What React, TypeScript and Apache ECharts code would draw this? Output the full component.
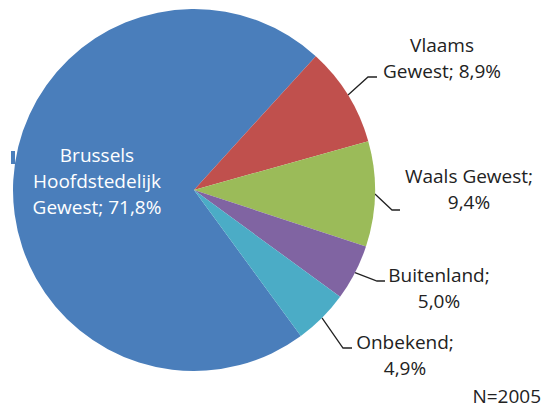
import React, { useEffect, useRef } from "react";
import * as echarts from "echarts";

const categories = ["Brussels\nHoofdstedelijk\nGewest", "Vlaams\nGewest", "Waals Gewest", "Buitenland", "Onbekend"];
const labelTexts = ["Brussels\nHoofdstedelijk\nGewest; 71,8%", "Vlaams\nGewest; 8,9%", "Waals Gewest;\n9,4%", "Buitenland;\n5,0%", "Onbekend;\n4,9%"];
const values = [71.8, 8.9, 9.4, 5.0, 4.9];
const colors = ["#4A7EBB", "#C0504D", "#9BBB59", "#8064A2", "#4BACC6"];
const footnote = "N=2005";

// label layout (style): label centre, leader-line bend and end
const labelPos: [number, number][] = [[97, 181], [442, 58], [469, 189], [439, 288], [405, 355]];
const lineBend: ([number, number] | null)[] = [null, [368, 77], [392, 210], [377, 281], [343, 348]];
const lineEnd: ([number, number] | null)[] = [null, [377, 77], [400, 210], [385, 281], [352, 348]];

const FONT = "'Open Sans', 'Noto Sans', sans-serif";

export default function App() {
  const ref = useRef<HTMLDivElement>(null);
  useEffect(() => {
    if (!ref.current) return;
    const chart = echarts.init(ref.current, null, { renderer: "svg" });
    chart.setOption({
      animation: false,
      backgroundColor: "#ffffff",
      graphic: [
        { type: "rect", shape: { x: 11, y: 151, width: 4, height: 13 }, style: { fill: colors[0] }, z: 0 },
        {
          type: "text",
          right: 3,
          top: 386,
          style: { text: footnote, fill: "#222222", font: `19px ${FONT}` },
        },
      ],
      series: [
        {
          type: "pie",
          center: [194, 190],
          radius: [0, 181],
          startAngle: 47.7 + values[0] * 3.6,
          clockwise: true,
          avoidLabelOverlap: false,
          itemStyle: { borderWidth: 0 },
          label: {
            show: true,
            position: "outside",
            color: "#222222",
            fontFamily: FONT,
            fontSize: 19,
            lineHeight: 26,
            align: "center",
          },
          labelLine: { show: true, lineStyle: { color: "#222222", width: 1.3 } },
          emphasis: { disabled: true },
          data: values.map((v, i) => ({
            value: v,
            name: categories[i],
            itemStyle: { color: colors[i] },
            label:
              i === 0
                ? { position: "inside", color: "#ffffff", formatter: labelTexts[i] }
                : { formatter: labelTexts[i] },
            labelLine: { show: i !== 0 },
          })),
          labelLayout: (params: any) => {
            const i = params.dataIndex;
            const res: any = {
              x: labelPos[i][0],
              y: labelPos[i][1],
              align: "center",
              verticalAlign: "middle",
            };
            if (i !== 0 && params.labelLinePoints) {
              res.labelLinePoints = [params.labelLinePoints[0], lineBend[i], lineEnd[i]];
            }
            return res;
          },
        },
      ],
    });
    return () => chart.dispose();
  }, []);
  return <div ref={ref} style={{ position: "absolute", left: 0, top: 0, width: 544, height: 407 }} />;
}
